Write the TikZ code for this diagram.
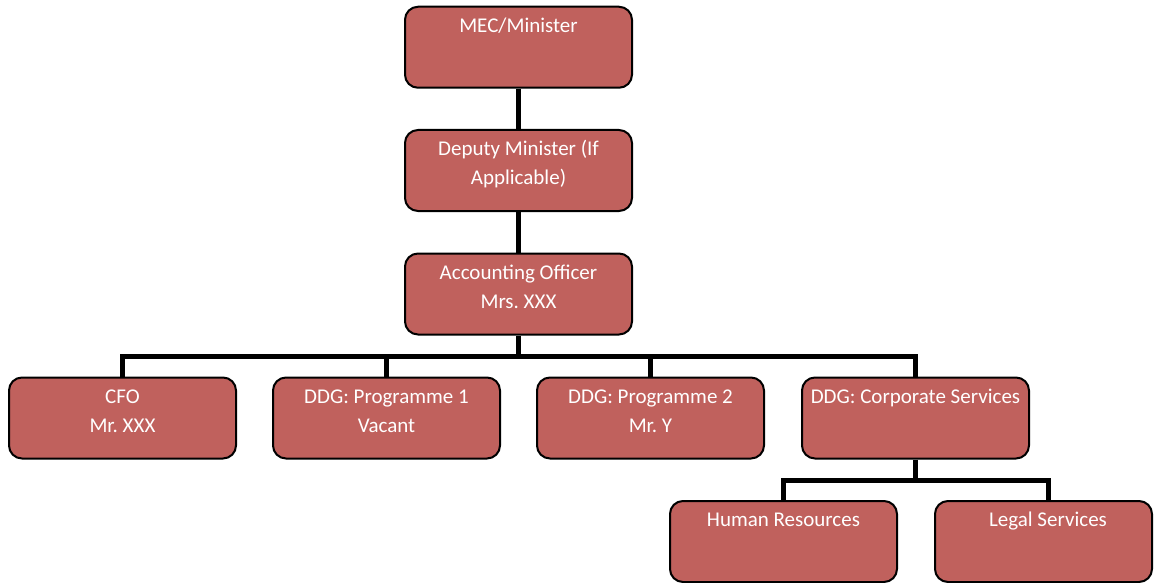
\documentclass[tikz,border=0pt]{standalone}
\usepackage{fontspec}
\setmainfont{Carlito}
\frenchspacing
\definecolor{boxred}{RGB}{192,97,93}
\newcommand\boxtext[2][227pt]{\parbox[c][81pt][t]{#1}{\centering\rule{0pt}{25.5pt}#2}}
\begin{document}
\begin{tikzpicture}[x=1pt,y=-1pt,
  orgbox/.style={draw=black,line width=2pt,rounded corners=13pt,fill=boxred,text=white,
    inner sep=0pt,font=\fontsize{21}{29.5}\selectfont},
  link/.style={line width=5pt,draw=black,line join=miter}]
\useasboundingbox (0,0) rectangle (1154,583);
\coordinate (bus) at (518.5,356);
\coordinate (bus2) at (915.5,480);
\coordinate (lgtop) at (1048,500.5);
% nodes
\node[orgbox] (mec) at (518.5,47.25) {\boxtext{MEC/Minister}};
\node[orgbox] (dep) at (518.5,170.5) {\boxtext{Deputy Minister (If\\Applicable)}};
\node[orgbox] (acc) at (518.5,294) {\boxtext{Accounting Officer\\Mrs. XXX}};
\node[orgbox] (cfo) at (122.5,418) {\boxtext{CFO\\Mr. XXX}};
\node[orgbox] (ddg1) at (386.5,418) {\boxtext{DDG: Programme 1\\Vacant}};
\node[orgbox] (ddg2) at (650.5,418) {\boxtext{DDG: Programme 2\\Mr. Y}};
\node[orgbox] (ddgc) at (915.5,418) {\boxtext{DDG: Corporate Services}};
\node[orgbox] (hr) at (783.5,541.5) {\boxtext{Human Resources}};
\node[orgbox] (legal) at (1043.5,541.5) {\boxtext[217pt]{\hspace*{9pt}Legal Services}};
% connectors
\draw[link] (mec.south) -- (dep.north);
\draw[link] (dep.south) -- (acc.north);
\draw[link] (acc.south) -- (bus);
\draw[link] (cfo.north) -- (cfo.north |- bus) -- (ddgc.north |- bus) -- (ddgc.north);
\draw[link] (ddg1.north) -- (ddg1.north |- bus);
\draw[link] (ddg2.north) -- (ddg2.north |- bus);
\draw[link] (ddgc.south) -- (bus2);
\draw[link] (hr.north) -- (hr.north |- bus2) -- (lgtop |- bus2) -- (lgtop);
\end{tikzpicture}
\end{document}
